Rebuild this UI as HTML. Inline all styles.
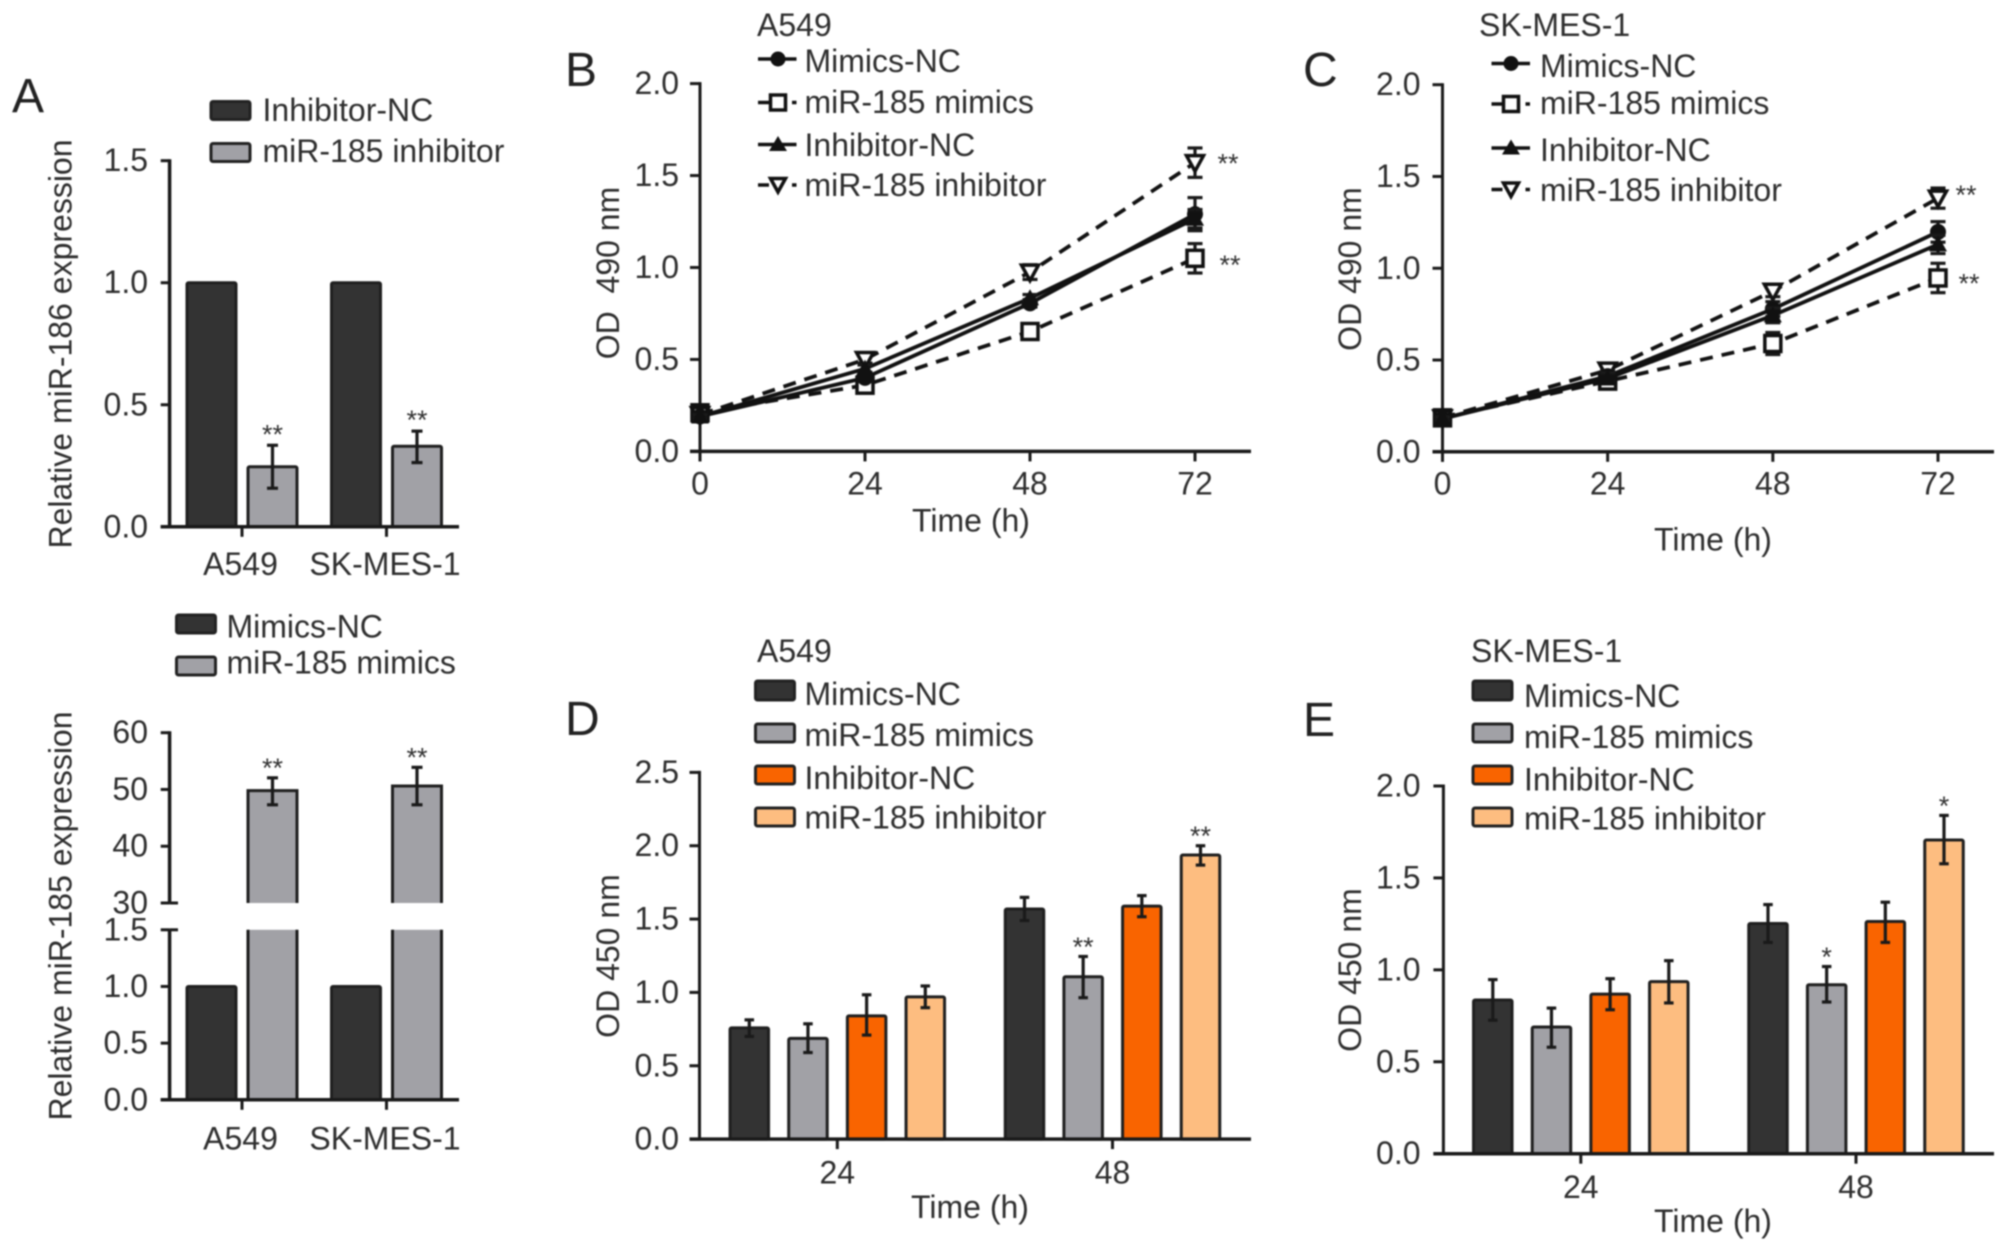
<!DOCTYPE html>
<html lang="en">
<head>
<meta charset="utf-8">
<title>miR-185 expression and OD charts</title>
<style>
html,body{margin:0;padding:0;background:#fff;}
body{width:2008px;height:1252px;overflow:hidden;}
svg{display:block;filter:blur(0.8px);}
text{font-family:"Liberation Sans",sans-serif;font-size:32px;fill:#2e2e2e;}
.letter{font-size:48px;fill:#222;}
</style>
</head>
<body>
<svg id="figure" xmlns="http://www.w3.org/2000/svg" width="2008" height="1252" viewBox="0 0 2008 1252">
  <rect x="0" y="0" width="2008" height="1252" fill="#fff"/>

  <text class="letter" x="12" y="112">A</text>
  <text class="letter" x="565" y="86">B</text>
  <text class="letter" x="1303" y="86">C</text>
  <text class="letter" x="565" y="735">D</text>
  <text class="letter" x="1303" y="736">E</text>

  <text text-anchor="middle" transform="translate(71.5 344) rotate(-90)">Relative miR-186 expression</text>
  <text text-anchor="middle" transform="translate(71.5 916) rotate(-90)">Relative miR-185 expression</text>
  <text text-anchor="middle" xml:space="preserve" transform="translate(618.8 273) rotate(-90)">OD  490 nm</text>
  <text text-anchor="middle" transform="translate(1361 269) rotate(-90)">OD 490 nm</text>
  <text text-anchor="middle" transform="translate(618.8 956) rotate(-90)">OD 450 nm</text>
  <text text-anchor="middle" transform="translate(1361 970) rotate(-90)">OD 450 nm</text>

  <text text-anchor="middle" x="971" y="531.5">Time (h)</text>
  <text text-anchor="middle" x="1713" y="550.5">Time (h)</text>
  <text text-anchor="middle" x="970" y="1218">Time (h)</text>
  <text text-anchor="middle" x="1713" y="1232">Time (h)</text>

  <text x="757" y="36">A549</text>
  <text x="1479" y="36">SK-MES-1</text>
  <text x="757" y="662">A549</text>
  <text x="1471" y="662">SK-MES-1</text>

  <g stroke="#222" stroke-width="3">
    <rect x="211" y="101.5" width="39" height="18" rx="2" fill="#333"/>
    <rect x="211" y="143.5" width="39" height="18" rx="2" fill="#a1a1a6"/>
  </g>
  <text x="262.5" y="121">Inhibitor-NC</text>
  <text x="262.5" y="162">miR-185 inhibitor</text>

  <g stroke="#222" stroke-width="3">
    <rect x="176.5" y="615" width="39" height="18" rx="2" fill="#333"/>
    <rect x="176.5" y="657" width="39" height="18" rx="2" fill="#a1a1a6"/>
  </g>
  <text x="226.5" y="637.5">Mimics-NC</text>
  <text x="226.5" y="673.5">miR-185 mimics</text>

  <g stroke="#111" stroke-width="3.5" fill="none">
    <line x1="758" y1="59" x2="796.5" y2="59"/>
    <circle cx="778" cy="59" r="7.5" fill="#111" stroke="none"/>
    <line x1="758" y1="102.5" x2="796.5" y2="102.5" stroke-dasharray="11 23 5"/>
    <rect x="770.5" y="95" width="15" height="15" fill="#fff" stroke-width="3.5"/>
    <line x1="758" y1="144.5" x2="796.5" y2="144.5"/>
    <path d="M778 136l9 15h-18z" fill="#111" stroke="none"/>
    <line x1="758" y1="185" x2="796.5" y2="185" stroke-dasharray="11 23 5"/>
    <path d="M770.5 178.5h15l-7.5 13.5z" fill="#fff" stroke-width="3.5"/>
  </g>
  <text x="804.5" y="72">Mimics-NC</text>
  <text x="804.5" y="113">miR-185 mimics</text>
  <text x="804.5" y="156">Inhibitor-NC</text>
  <text x="804.5" y="196">miR-185 inhibitor</text>

  <g stroke="#111" stroke-width="3.5" fill="none">
    <line x1="1491.5" y1="63.5" x2="1530" y2="63.5"/>
    <circle cx="1511" cy="63.5" r="7.5" fill="#111" stroke="none"/>
    <line x1="1491.5" y1="104" x2="1530" y2="104" stroke-dasharray="11 23 5"/>
    <rect x="1503.5" y="96.5" width="15" height="15" fill="#fff" stroke-width="3.5"/>
    <line x1="1491.5" y1="148" x2="1530" y2="148"/>
    <path d="M1511 139.5l9 15h-18z" fill="#111" stroke="none"/>
    <line x1="1491.5" y1="189.5" x2="1530" y2="189.5" stroke-dasharray="11 23 5"/>
    <path d="M1503.5 183h15l-7.5 13.5z" fill="#fff" stroke-width="3.5"/>
  </g>
  <text x="1540" y="77">Mimics-NC</text>
  <text x="1540" y="114">miR-185 mimics</text>
  <text x="1540" y="161">Inhibitor-NC</text>
  <text x="1540" y="201">miR-185 inhibitor</text>

  <g stroke="#222" stroke-width="3">
    <rect x="755.5" y="681" width="39" height="19" rx="2" fill="#333"/>
    <rect x="755.5" y="724" width="39" height="18" rx="2" fill="#a1a1a6"/>
    <rect x="755.5" y="766" width="39" height="18" rx="2" fill="#f96400"/>
    <rect x="755.5" y="808" width="39" height="18" rx="2" fill="#fdbd80"/>
  </g>
  <text x="804.5" y="705">Mimics-NC</text>
  <text x="804.5" y="746">miR-185 mimics</text>
  <text x="804.5" y="789">Inhibitor-NC</text>
  <text x="804.5" y="828.5">miR-185 inhibitor</text>

  <g stroke="#222" stroke-width="3">
    <rect x="1473" y="681" width="39" height="19" rx="2" fill="#333"/>
    <rect x="1473" y="724" width="39" height="18" rx="2" fill="#a1a1a6"/>
    <rect x="1473" y="766" width="39" height="18" rx="2" fill="#f96400"/>
    <rect x="1473" y="808" width="39" height="18" rx="2" fill="#fdbd80"/>
  </g>
  <text x="1524" y="707">Mimics-NC</text>
  <text x="1524" y="748">miR-185 mimics</text>
  <text x="1524" y="790.5">Inhibitor-NC</text>
  <text x="1524" y="829.5">miR-185 inhibitor</text>
</svg>

<script>
// ---------- Panel A (top) data ----------
const cellLines = ['A549', 'SK-MES-1'];
const a1Ticks = [0, 0.5, 1.0, 1.5];
const a1Control = [1, 1];
const a1Treated = [0.246, 0.33];
const a1TreatedHigh = [0.334, 0.392];
const a1TreatedLow = [0.158, 0.263];
const a1Sig = ['**', '**'];

// ---------- Panel A (bottom) data ----------
const a2LowerTicks = [0, 0.5, 1.0, 1.5];
const a2UpperTicks = [30, 40, 50, 60];
const a2Control = [1, 1];
const a2Treated = [49.8, 50.6];
const a2TreatedHigh = [52.05, 53.9];
const a2TreatedLow = [47.3, 47.3];
const a2Sig = ['**', '**'];

// ---------- Line chart data (panels B, C) ----------
const hours = [0, 24, 48, 72];
const odTicks = [0, 0.5, 1.0, 1.5, 2.0];

const bMimicsNC = [0.19, 0.40, 0.805, 1.29];
const bMimicsNCErr = [0.01, 0.02, 0.02, 0.09];
const bMimics = [0.21, 0.36, 0.652, 1.05];
const bMimicsErr = [0.02, 0.02, 0.03, 0.08];
const bInhibitorNC = [0.19, 0.45, 0.833, 1.265];
const bInhibitorNCErr = [0.01, 0.02, 0.02, 0.05];
const bInhibitor = [0.20, 0.50, 0.975, 1.57];
const bInhibitorErr = [0.01, 0.02, 0.04, 0.08];

const cMimicsNC = [0.18, 0.412, 0.778, 1.198];
const cMimicsNCErr = [0.01, 0.03, 0.04, 0.056];
const cMimics = [0.185, 0.385, 0.59, 0.947];
const cMimicsErr = [0.02, 0.03, 0.06, 0.08];
const cInhibitorNC = [0.18, 0.40, 0.743, 1.13];
const cInhibitorNCErr = [0.01, 0.03, 0.04, 0.05];
const cInhibitor = [0.185, 0.445, 0.875, 1.382];
const cInhibitorErr = [0.01, 0.02, 0.03, 0.055];

// ---------- Bar chart data (panels D, E) ----------
const timeGroups = ['24', '48'];
const dTicks = ['0.0', '0.5', '1.0', '1.5', '2.0', '2.5'];
const eTicks = ['0.0', '0.5', '1.0', '1.5', '2.0'];

const dMimicsNC = [0.758, 1.569];
const dMimicsNCHigh = [0.813, 1.648];
const dMimicsNCLow = [0.70, 1.49];
const dMimics = [0.687, 1.107];
const dMimicsHigh = [0.786, 1.245];
const dMimicsLow = [0.59, 0.964];
const dInhibitorNC = [0.84, 1.588];
const dInhibitorNCHigh = [0.984, 1.66];
const dInhibitorNCLow = [0.709, 1.516];
const dInhibitor = [0.97, 1.937];
const dInhibitorHigh = [1.044, 2.0];
const dInhibitorLow = [0.896, 1.868];
const dMimicsSig = ['', '**'];
const dInhibitorSig = ['', '**'];

const eMimicsNC = [0.836, 1.252];
const eMimicsNCHigh = [0.947, 1.355];
const eMimicsNCLow = [0.726, 1.149];
const eMimics = [0.689, 0.919];
const eMimicsHigh = [0.792, 1.018];
const eMimicsLow = [0.579, 0.825];
const eInhibitorNC = [0.868, 1.263];
const eInhibitorNCHigh = [0.952, 1.368];
const eInhibitorNCLow = [0.783, 1.149];
const eInhibitor = [0.936, 1.706];
const eInhibitorHigh = [1.05, 1.84];
const eInhibitorLow = [0.82, 1.577];
const eMimicsSig = ['', '*'];
const eInhibitorSig = ['', '*'];

// ---------- Helpers ----------
const svg = document.getElementById('figure');
const SVGNS = 'http://www.w3.org/2000/svg';
const INK = '#1a1a1a';
const DARK = '#333333';
const GRAY = '#a1a1a6';
const ORANGE = '#f96400';
const PEACH = '#fdbd80';

function add(tag, attrs, name, text) {
  const el = document.createElementNS(SVGNS, tag);
  for (const k in attrs) el.setAttribute(k, attrs[k]);
  
  
  if (text !== undefined) el.textContent = text;
  svg.appendChild(el);
  return el;
}
function linear(d0, d1, r0, r1) {
  return function (v) { return r0 + (v - d0) * (r1 - r0) / (d1 - d0); };
}
function seg(x1, y1, x2, y2, name, width, dash) {
  const attrs = { x1: x1, y1: y1, x2: x2, y2: y2, stroke: INK, 'stroke-width': width || 3 };
  if (dash) attrs['stroke-dasharray'] = dash;
  return add('line', attrs, name);
}
function yAxis(ticks, scale, axisX, tickLeft, labelEnd, prefix, decimals) {
  ticks.forEach(function (t) {
    const v = Number(t);
    const y = scale(v);
    seg(tickLeft, y, axisX, y, prefix + '-y-tick', 3);
    add('text', { x: labelEnd, y: y + 10.5, 'text-anchor': 'end' }, prefix + '-y-tick-label', v.toFixed(decimals));
  });
}
function errorBar(x, yHi, yLo, cap, name) {
  seg(x, yHi, x, yLo, name, 3.2);
  seg(x - cap / 2, yHi, x + cap / 2, yHi, name + '-cap', 3.2);
  seg(x - cap / 2, yLo, x + cap / 2, yLo, name + '-cap', 3.2);
}
function stars(x, y, label, name) {
  if (!label) return;
  add('text', { x: x, y: y + 12, 'text-anchor': 'middle', style: 'font-size:27px;fill:#333' }, name, label);
}
function bar(cx, width, y0, yTop, fill, name) {
  add('rect', { x: cx - width / 2, y: yTop, width: width, height: y0 - yTop, fill: fill, stroke: '#1f1f1f', 'stroke-width': 3, rx: 1.5 }, name);
}

// ---------- Panel A top ----------
(function () {
  const y = linear(0, 1.5, 526.8, 160.7);
  const xGroup = linear(0, 1, 242, 386.5);
  cellLines.forEach(function (c, i) {
    const cx = xGroup(i);
    bar(cx - 30.5, 49, y(0), y(a1Control[i]), DARK, 'bar-inhibitor-nc-' + c.toLowerCase());
    bar(cx + 30.5, 49, y(0), y(a1Treated[i]), GRAY, 'bar-mir-185-inhibitor-' + c.toLowerCase());
    errorBar(cx + 30.5, y(a1TreatedHigh[i]), y(a1TreatedLow[i]), 11, 'error-bar');
    stars(cx + 30.5, y(a1TreatedHigh[i]) - 14, a1Sig[i], 'significance-marker');
    seg(cx, y(0), cx, y(0) + 10, 'panel-a-top-x-tick', 3);
    add('text', { x: cx - 1.5, y: 575, 'text-anchor': 'middle' }, 'panel-a-top-x-tick-label', c);
  });
  seg(169.6, y(1.5) - 1.5, 169.6, y(0) + 1.5, 'panel-a-top-y-axis', 3.5);
  seg(160.7, y(0), 459, y(0), 'panel-a-top-x-axis', 3.5);
  yAxis(a1Ticks, y, 169.6, 160.7, 148, 'panel-a-top', 1);
})();

// ---------- Panel A bottom (broken axis) ----------
(function () {
  const yLow = linear(0, 1.5, 1099.8, 929.8);
  const yUp = linear(30, 60, 903, 732.7);
  const xGroup = linear(0, 1, 242, 386.5);
  cellLines.forEach(function (c, i) {
    const cx = xGroup(i);
    const bx = cx + 30.5;
    bar(cx - 30.5, 49, yLow(0), yLow(a2Control[i]), DARK, 'bar-mimics-nc-' + c.toLowerCase());
    add('rect', { x: bx - 24.5, y: yLow(1.5), width: 49, height: yLow(0) - yLow(1.5), fill: GRAY }, 'bar-mir-185-mimics-lower');
    seg(bx - 24.5, yLow(1.5), bx - 24.5, yLow(0), 'bar-edge', 3);
    seg(bx + 24.5, yLow(1.5), bx + 24.5, yLow(0), 'bar-edge', 3);
    add('path', {
      d: 'M' + (bx - 24.5) + ' ' + yUp(30) + 'V' + yUp(a2Treated[i]) + 'H' + (bx + 24.5) + 'V' + yUp(30),
      fill: GRAY, stroke: '#1f1f1f', 'stroke-width': 3
    }, 'bar-mir-185-mimics-upper');
    errorBar(bx, yUp(a2TreatedHigh[i]), yUp(a2TreatedLow[i]), 11, 'error-bar');
    stars(bx, yUp(a2TreatedHigh[i]) - 13, a2Sig[i], 'significance-marker');
    seg(cx, yLow(0), cx, yLow(0) + 10, 'panel-a-bottom-x-tick', 3);
    add('text', { x: cx - 1.5, y: 1149.5, 'text-anchor': 'middle' }, 'panel-a-bottom-x-tick-label', c);
  });
  seg(169.6, yUp(60) - 1.5, 169.6, yUp(30), 'panel-a-bottom-upper-y-axis', 3.5);
  seg(169.6, yLow(1.5), 169.6, yLow(0) + 1.5, 'panel-a-bottom-lower-y-axis', 3.5);
  seg(160.7, yLow(0), 459, yLow(0), 'panel-a-bottom-x-axis', 3.5);
  yAxis(a2UpperTicks, yUp, 169.6, 160.7, 148, 'panel-a-bottom-upper', 0);
  yAxis(a2LowerTicks, yLow, 169.6, 160.7, 148, 'panel-a-bottom-lower', 1);
  seg(169.6, yUp(30), 178, yUp(30), 'axis-break-cap', 3);
  seg(169.6, yLow(1.5), 178, yLow(1.5), 'axis-break-cap', 3);
})();

// ---------- Line charts ----------
function marker(kind, x, y, name) {
  if (kind === 'circle') {
    add('circle', { cx: x, cy: y, r: 8, fill: '#111' }, name);
  } else if (kind === 'square') {
    add('rect', { x: x - 8, y: y - 8, width: 16, height: 16, fill: '#fff', stroke: '#111', 'stroke-width': 3.5 }, name);
  } else if (kind === 'triangle') {
    add('path', { d: 'M' + x + ' ' + (y - 9) + 'l9 16h-18z', fill: '#111' }, name);
  } else {
    add('path', { d: 'M' + (x - 8.5) + ' ' + (y - 7) + 'h17l-8.5 15.5z', fill: '#fff', stroke: '#111', 'stroke-width': 3.5 }, name);
  }
}
function lineSeries(vals, errs, kind, dashed, x, y, name) {
  const pts = hours.map(function (h, i) { return x(h) + ',' + y(vals[i]); }).join(' ');
  const attrs = { points: pts, fill: 'none', stroke: '#111', 'stroke-width': 3.8 };
  if (dashed) attrs['stroke-dasharray'] = '13 9';
  add('polyline', attrs, 'line-' + name);
  hours.forEach(function (h, i) {
    errorBar(x(h), y(vals[i] + errs[i]), y(vals[i] - errs[i]), 15, 'error-bar-' + name);
  });
  hours.forEach(function (h, i) {
    marker(kind, x(h), y(vals[i]), 'point-' + name);
  });
}
function lineAxes(x, y, axisX, axisEnd, labelEnd, tickBaseline, prefix) {
  seg(axisX, y(2) - 1.5, axisX, y(0) + 10, prefix + '-y-axis', 3);
  seg(axisX - 10, y(0), axisEnd, y(0), prefix + '-x-axis', 3.5);
  yAxis(odTicks, y, axisX, axisX - 10, labelEnd, prefix, 1);
  hours.forEach(function (h) {
    seg(x(h), y(0), x(h), y(0) + 10, prefix + '-x-tick', 3);
    add('text', { x: x(h), y: tickBaseline, 'text-anchor': 'middle' }, prefix + '-x-tick-label', String(h));
  });
}

(function () {
  const x = linear(0, 72, 700, 1195);
  const y = linear(0, 2, 451.4, 83.6);
  lineAxes(x, y, 700, 1251, 679, 494.5, 'panel-b');
  lineSeries(bMimics, bMimicsErr, 'square', true, x, y, 'mir-185-mimics');
  lineSeries(bInhibitor, bInhibitorErr, 'invtriangle', true, x, y, 'mir-185-inhibitor');
  lineSeries(bMimicsNC, bMimicsNCErr, 'circle', false, x, y, 'mimics-nc');
  lineSeries(bInhibitorNC, bInhibitorNCErr, 'triangle', false, x, y, 'inhibitor-nc');
  stars(x(72) + 33, y(bInhibitor[3]) - 2, '**', 'significance-marker');
  stars(x(72) + 35, y(bMimics[3]) + 3.5, '**', 'significance-marker');
})();

(function () {
  const x = linear(0, 72, 1442.5, 1938);
  const y = linear(0, 2, 451.8, 84.7);
  lineAxes(x, y, 1442.5, 1994, 1420.5, 494.5, 'panel-c');
  lineSeries(cMimics, cMimicsErr, 'square', true, x, y, 'mir-185-mimics');
  lineSeries(cInhibitor, cInhibitorErr, 'invtriangle', true, x, y, 'mir-185-inhibitor');
  lineSeries(cMimicsNC, cMimicsNCErr, 'circle', false, x, y, 'mimics-nc');
  lineSeries(cInhibitorNC, cInhibitorNCErr, 'triangle', false, x, y, 'inhibitor-nc');
  stars(x(72) + 28, y(cInhibitor[3]) - 6, '**', 'significance-marker');
  stars(x(72) + 31, y(cMimics[3]) + 2.6, '**', 'significance-marker');
})();

// ---------- Grouped bar charts ----------
function groupedBars(series, ticks, y, xGroup, axisX, axisEnd, labelEnd, tickBaseline, prefix) {
  const offsets = linear(0, 3, -88, 88);
  timeGroups.forEach(function (g, i) {
    const cx = xGroup(i);
    series.forEach(function (s, j) {
      const bx = cx + offsets(j);
      bar(bx, 38.5, y(0), y(s.vals[i]), s.fill, prefix + '-bar-' + s.name + '-' + g);
      errorBar(bx, y(s.hi[i]), y(s.lo[i]), 9.5, 'error-bar');
      if (s.sig) stars(bx, y(s.hi[i]) - 12.5, s.sig[i], 'significance-marker');
    });
    seg(cx, y(0), cx, y(0) + 10, prefix + '-x-tick', 3);
    add('text', { x: cx, y: tickBaseline, 'text-anchor': 'middle' }, prefix + '-x-tick-label', g);
  });
  seg(axisX, y(Number(ticks[ticks.length - 1])) - 1.5, axisX, y(0), prefix + '-y-axis', 3);
  seg(axisX - 10, y(0), axisEnd, y(0), prefix + '-x-axis', 3.5);
  yAxis(ticks, y, axisX, axisX - 10, labelEnd, prefix, 1);
}

groupedBars([
  { name: 'mimics-nc', fill: DARK, vals: dMimicsNC, hi: dMimicsNCHigh, lo: dMimicsNCLow },
  { name: 'mir-185-mimics', fill: GRAY, vals: dMimics, hi: dMimicsHigh, lo: dMimicsLow, sig: dMimicsSig },
  { name: 'inhibitor-nc', fill: ORANGE, vals: dInhibitorNC, hi: dInhibitorNCHigh, lo: dInhibitorNCLow },
  { name: 'mir-185-inhibitor', fill: PEACH, vals: dInhibitor, hi: dInhibitorHigh, lo: dInhibitorLow, sig: dInhibitorSig }
], dTicks, linear(0, 2.5, 1139.1, 772.4), linear(0, 1, 837.3, 1112.5), 699.5, 1251, 679, 1183.5, 'panel-d');

groupedBars([
  { name: 'mimics-nc', fill: DARK, vals: eMimicsNC, hi: eMimicsNCHigh, lo: eMimicsNCLow },
  { name: 'mir-185-mimics', fill: GRAY, vals: eMimics, hi: eMimicsHigh, lo: eMimicsLow, sig: eMimicsSig },
  { name: 'inhibitor-nc', fill: ORANGE, vals: eInhibitorNC, hi: eInhibitorNCHigh, lo: eInhibitorNCLow },
  { name: 'mir-185-inhibitor', fill: PEACH, vals: eInhibitor, hi: eInhibitorHigh, lo: eInhibitorLow, sig: eInhibitorSig }
], eTicks, linear(0, 2, 1153.7, 786), linear(0, 1, 1580.8, 1856), 1443.4, 1994, 1420.5, 1198, 'panel-e');
</script>
</body>
</html>
